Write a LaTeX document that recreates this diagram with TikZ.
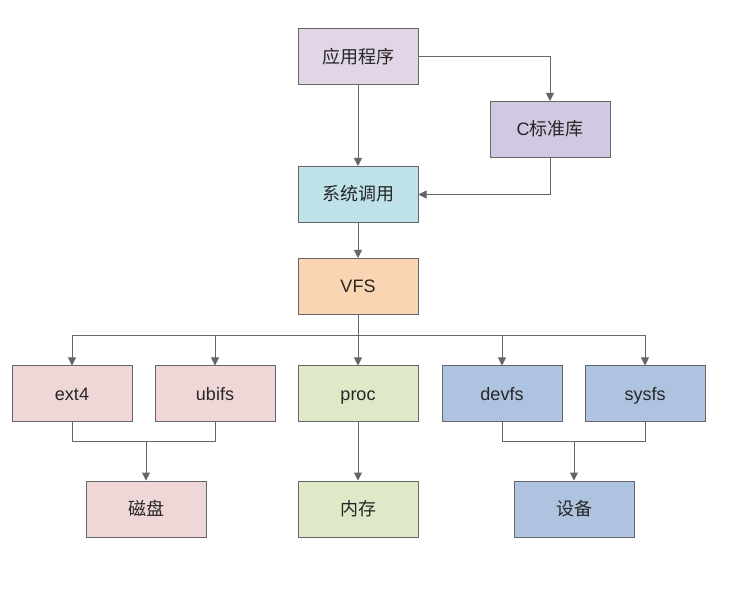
\documentclass[tikz,border=0pt]{standalone}
\usepackage{fontspec}
\setmainfont{Liberation Sans}
\newfontfamily\cjk{Noto Sans CJK SC}
\usetikzlibrary{arrows.meta}
\definecolor{linec}{HTML}{666666}
\definecolor{cpurple}{HTML}{E1D5E7}
\definecolor{cpurple2}{HTML}{D1C8E1}
\definecolor{ccyan}{HTML}{BFE1EA}
\definecolor{corange}{HTML}{FAD5B4}
\definecolor{cpink}{HTML}{EFD7D7}
\definecolor{cgreen}{HTML}{DFE8C7}
\definecolor{cblue}{HTML}{AEC3E0}
\begin{document}
\begin{tikzpicture}[x=1pt,y=-1pt,
  box/.style={draw=linec, line width=1pt, minimum width=120pt, minimum height=56pt, inner sep=0pt, text height=14pt, text depth=1pt, font=\fontsize{18}{21}\selectfont, text=black!85},
  conn/.style={draw=linec, line width=1pt, -{Triangle[length=8pt,width=8pt]}},
  seg/.style={draw=linec, line width=1pt}]
\useasboundingbox (0,0) rectangle (732,596);
\node[box, fill=cpurple] (app) at (358,57) {\cjk 应用程序};
\node[box, fill=cpurple2] (clib) at (550,129.5) {C\cjk 标准库};
\node[box, fill=ccyan] (sys) at (358,194.5) {\cjk 系统调用};
\node[box, fill=corange] (vfs) at (358,286.5) {VFS};
\node[box, fill=cpink] (ext) at (72,394) {ext4};
\node[box, fill=cpink] (ubi) at (215,394) {ubifs};
\node[box, fill=cgreen] (proc) at (358,394) {proc};
\node[box, fill=cblue] (devfs) at (502,394) {devfs};
\node[box, fill=cblue] (sysfs) at (645,394) {sysfs};
\node[box, fill=cpink] (disk) at (146,509) {\cjk 磁盘};
\node[box, fill=cgreen] (mem) at (358,509) {\cjk 内存};
\node[box, fill=cblue] (dev) at (574,509) {\cjk 设备};
\coordinate (bus) at (358,336);
\coordinate (j1) at (146,442);
\coordinate (j2) at (574,442);
\draw[conn] (app) -- (sys);
\draw[conn] (app.east) -| (clib.north);
\draw[conn] (clib.south) |- (sys.east);
\draw[conn] (sys) -- (vfs);
\draw[seg] (vfs.south) -- (bus);
\draw[conn] (bus) -| (ext.north);
\draw[conn] (bus) -| (ubi.north);
\draw[conn] (bus) -- (proc.north);
\draw[conn] (bus) -| (devfs.north);
\draw[conn] (bus) -| (sysfs.north);
\draw[seg] (ext.south) |- (j1);
\draw[seg] (ubi.south) |- (j1);
\draw[conn] (j1) -- (disk.north);
\draw[conn] (proc) -- (mem);
\draw[seg] (devfs.south) |- (j2);
\draw[seg] (sysfs.south) |- (j2);
\draw[conn] (j2) -- (dev.north);
\end{tikzpicture}
\end{document}
